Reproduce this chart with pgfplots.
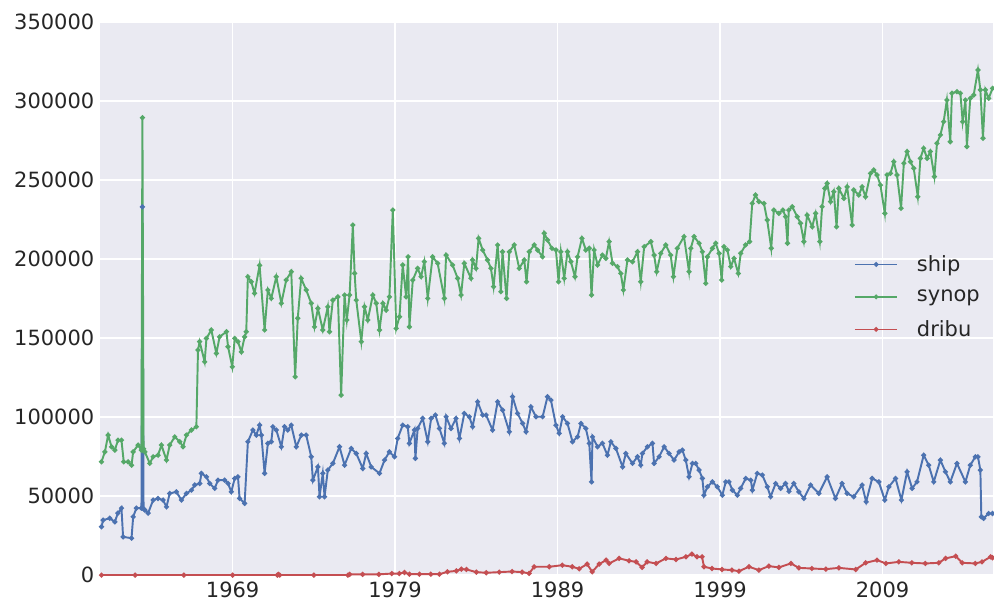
\documentclass[border=0pt]{standalone}
\usepackage{pgfplots}
\pgfplotsset{compat=1.18}
\usepackage{fontspec}
\setmainfont{DejaVu Sans}
\definecolor{sbblue}{HTML}{4C72B0}
\definecolor{sbgreen}{HTML}{55A868}
\definecolor{sbred}{HTML}{C44E52}
\definecolor{sbbg}{HTML}{EAEAF2}
\definecolor{sbtext}{HTML}{262626}
\pgfkeys{/pgf/number format/.cd, fixed, precision=0, 1000 sep={}, assume math mode=true}
\begin{document}
\begin{tikzpicture}
\begin{axis}[
  name=main,
  scale only axis,
  width=670.5pt, height=415.5pt,
  xmin=1960.83, xmax=2015.77,
  ymin=0, ymax=350000,
  axis background/.style={fill=sbbg},
  axis line style={draw=none},
  grid=major,
  major grid style={white, line width=1pt},
  major tick length=0pt,
  xtick={1969,1979,1989,1999,2009},
  ytick={0,50000,100000,150000,200000,250000,300000,350000},
  scaled y ticks=false, scaled x ticks=false,
  tick label style={font=\fontsize{15.75}{19}\selectfont, text=sbtext},
  xticklabel style={inner sep=0pt, yshift=-5pt},
  yticklabel style={inner sep=0pt, xshift=-4pt},
  legend style={at={(0.84,0.588)}, anchor=north west, draw=none, fill=none,
    font=\fontsize{15.75}{19}\selectfont, text=sbtext, row sep=8.5pt, column sep=12pt},
  legend cell align=left,
  legend image code/.code={\draw[#1, line width=1.3pt, mark repeat=2, mark phase=2] plot coordinates {(0pt,0pt) (16pt,0pt) (32pt,0pt)};},
  every axis plot/.append style={line width=1.45pt, mark=*, mark size=1.1pt},
]
\addplot[sbblue, mark options={fill=sbblue, draw=sbblue}] coordinates {
(1960.93,30600) (1961.03,34800) (1961.44,36000) (1961.75,33700) (1961.94,39200) (1962.16,42400)
(1962.26,24200) (1962.78,23400) (1962.88,36900) (1963.08,42400) (1963.39,42400) (1963.45,233000)
(1963.52,42000) (1963.60,41100) (1963.80,39200) (1964.11,47500) (1964.41,48500) (1964.72,47500)
(1964.93,43200) (1965.13,51700) (1965.54,52700) (1965.85,47500) (1966.16,51700) (1966.47,53800)
(1966.67,57000) (1966.98,58000) (1967.08,64400) (1967.39,62200) (1967.59,58000) (1967.90,54900)
(1968.10,60100) (1968.51,60100) (1968.72,58000) (1968.92,52700) (1969.13,61200) (1969.33,62200)
(1969.43,48500) (1969.74,45400) (1969.94,84400) (1970.25,91800) (1970.46,88600) (1970.66,94900)
(1970.77,88600) (1970.97,64400) (1971.17,83400) (1971.38,84400) (1971.48,93900) (1971.69,91800)
(1972.00,81200) (1972.20,93900) (1972.40,91800) (1972.61,94900) (1972.92,81200) (1973.23,88600)
(1973.53,88600) (1973.84,74900) (1973.94,60100) (1974.25,68500) (1974.35,49600) (1974.55,64400)
(1974.66,49600) (1974.86,66500) (1975.17,70700) (1975.58,81200) (1975.89,69600) (1976.30,80200)
(1976.61,77000) (1977.01,67500) (1977.22,77000) (1977.53,68500) (1978.04,64400) (1978.35,72800)
(1978.65,78000) (1978.96,74900) (1979.16,86500) (1979.47,94900) (1979.78,93900) (1979.88,83400)
(1980.19,91800) (1980.25,73900) (1980.39,92800) (1980.70,99200) (1981.01,84400) (1981.22,99200)
(1981.48,101300) (1981.73,92800) (1982.03,83400) (1982.14,100200) (1982.44,92800) (1982.75,99200)
(1982.96,86500) (1983.26,102300) (1983.57,100200) (1983.77,93900) (1984.08,109700) (1984.39,101300)
(1984.60,101300) (1985.00,91800) (1985.31,109700) (1985.62,104400) (1986.03,90700) (1986.23,112900)
(1986.54,102300) (1986.85,96000) (1987.06,90700) (1987.36,106500) (1987.67,100200) (1988.08,100200)
(1988.38,112900) (1988.59,110800) (1988.90,94900) (1989.10,89700) (1989.31,100200) (1989.61,96000)
(1989.92,84400) (1990.23,87500) (1990.44,96000) (1990.74,92800) (1990.95,83400) (1991.09,59000)
(1991.15,87500) (1991.46,81200) (1991.76,83400) (1992.07,75900) (1992.28,84400) (1992.59,80200)
(1993.00,68500) (1993.20,77000) (1993.61,70700) (1993.92,74900) (1994.12,69600) (1994.22,77000)
(1994.53,81200) (1994.84,83400) (1994.94,70700) (1995.25,74900) (1995.56,81200) (1995.86,77000)
(1996.17,72800) (1996.48,78000) (1996.68,79100) (1996.89,72800) (1997.09,62200) (1997.30,70700)
(1997.50,70700) (1997.71,66500) (1997.91,61200) (1998.01,50600) (1998.22,55900) (1998.53,59000)
(1998.83,55900) (1999.14,50600) (1999.35,59000) (1999.55,59000) (1999.76,53800) (2000.06,50600)
(2000.27,54900) (2000.58,61200) (2000.89,60100) (2000.99,53800) (2001.29,64400) (2001.60,63300)
(2001.91,55900) (2002.11,49600) (2002.42,58000) (2002.73,54900) (2003.03,58000) (2003.24,53000)
(2003.54,58000) (2003.85,52700) (2004.16,48500) (2004.57,57000) (2005.08,51700) (2005.59,62200)
(2006.10,48500) (2006.51,58000) (2006.82,51700) (2007.23,49600) (2007.74,57000) (2007.99,46400)
(2008.36,61200) (2008.77,59000) (2009.14,47500) (2009.39,55900) (2009.80,61200) (2010.16,47500)
(2010.51,65400) (2010.82,54900) (2011.12,59000) (2011.53,75900) (2011.84,69600) (2012.15,59000)
(2012.56,72800) (2012.87,65400) (2013.17,59000) (2013.58,70700) (2014.10,59000) (2014.40,69600)
(2014.71,74900) (2014.87,74900) (2015.02,66500) (2015.08,36900) (2015.22,35900) (2015.53,39000)
(2015.77,39000)
};
\addlegendentry{ship}
\addplot[sbgreen, mark options={fill=sbgreen, draw=sbgreen}] coordinates {
(1960.93,71700) (1961.14,78000) (1961.34,88600) (1961.55,81200) (1961.75,79100) (1961.95,85400)
(1962.16,85400) (1962.30,71700) (1962.57,71700) (1962.78,69600) (1962.88,78000) (1963.18,82300)
(1963.39,79100) (1963.45,289400) (1963.52,80000) (1963.60,78000) (1963.90,70700) (1964.11,74900)
(1964.41,75900) (1964.62,82300) (1964.93,72800) (1965.13,82300) (1965.44,87500) (1965.75,84400)
(1965.95,81200) (1966.16,88600) (1966.47,91800) (1966.77,93900) (1966.87,142400) (1966.97,147700)
(1967.28,135000) (1967.39,149800) (1967.69,155100) (1968.00,140300) (1968.20,150800) (1968.62,154000)
(1968.72,144500) (1968.98,131800) (1969.13,149800) (1969.33,147700) (1969.54,141300) (1969.74,150800)
(1969.84,154000) (1969.94,188800) (1970.15,185600) (1970.35,178300) (1970.66,196000) (1970.97,155100)
(1971.17,180400) (1971.38,175100) (1971.69,188800) (1972.00,172000) (1972.30,186700) (1972.61,192000)
(1972.85,125500) (1973.01,162500) (1973.22,187800) (1973.53,180400) (1973.84,172000) (1974.04,157100)
(1974.25,168800) (1974.55,155100) (1974.86,169800) (1974.96,154000) (1975.17,174000) (1975.48,176100)
(1975.68,113900) (1975.89,177200) (1976.03,161400) (1976.20,177200) (1976.40,221500) (1976.51,190900)
(1976.61,174000) (1976.92,147700) (1977.12,169800) (1977.32,161400) (1977.63,177200) (1977.84,172000)
(1978.04,155100) (1978.25,172000) (1978.45,167700) (1978.65,176100) (1978.86,231000) (1979.07,156100)
(1979.27,163500) (1979.47,196200) (1979.68,176100) (1979.80,201400) (1979.88,157100) (1980.09,186700)
(1980.39,194100) (1980.60,188800) (1980.80,198300) (1981.01,175100) (1981.31,201400) (1981.62,197300)
(1982.03,175100) (1982.14,202500) (1982.54,196200) (1982.85,187800) (1983.06,177200) (1983.26,197300)
(1983.67,187800) (1983.77,199400) (1983.98,194100) (1984.14,213100) (1984.39,205700) (1984.69,199400)
(1984.90,194100) (1985.06,182500) (1985.31,208900) (1985.51,179300) (1985.61,204600) (1985.86,175100)
(1986.03,204600) (1986.33,208900) (1986.64,194100) (1986.95,199400) (1987.09,185600) (1987.26,204600)
(1987.56,208900) (1987.77,205700) (1988.07,201400) (1988.18,216300) (1988.38,212000) (1988.65,206800)
(1988.90,205700) (1989.06,185600) (1989.20,204600) (1989.41,187800) (1989.61,204600) (1989.82,198300)
(1990.07,188800) (1990.23,201400) (1990.50,213100) (1990.74,205700) (1990.95,206800) (1991.09,177200)
(1991.25,205700) (1991.46,196200) (1991.76,202500) (1991.97,200400) (1992.17,211000) (1992.38,197300)
(1992.69,195200) (1992.89,190900) (1993.05,180400) (1993.30,199400) (1993.61,198300) (1993.92,204600)
(1994.12,185600) (1994.33,207800) (1994.74,211000) (1994.94,202500) (1995.10,192000) (1995.35,203600)
(1995.66,208900) (1995.96,202500) (1996.13,188800) (1996.37,206800) (1996.78,214200) (1997.09,192000)
(1997.20,206800) (1997.40,214200) (1997.71,210000) (1997.91,204600) (1998.12,184600) (1998.22,201400)
(1998.53,206800) (1998.73,210000) (1998.94,203600) (1999.10,186700) (1999.24,207800) (1999.45,205700)
(1999.66,195200) (1999.86,200400) (2000.12,190900) (2000.27,203600) (2000.57,208900) (2000.82,211000)
(2000.98,235200) (2001.18,240500) (2001.39,236300) (2001.70,235200) (2001.90,224700) (2002.15,206800)
(2002.31,231000) (2002.62,228900) (2002.87,231000) (2003.03,226800) (2003.15,210000) (2003.23,231000)
(2003.44,233100) (2003.75,226800) (2003.95,222600) (2004.16,211000) (2004.36,227800) (2004.67,220400)
(2004.88,228900) (2005.14,211000) (2005.28,233100) (2005.45,244700) (2005.59,247900) (2005.80,236300)
(2006.00,242600) (2006.17,220400) (2006.31,244700) (2006.62,238400) (2006.82,245700) (2007.13,221500)
(2007.23,243700) (2007.54,240500) (2007.74,245700) (2007.95,239400) (2008.26,254200) (2008.46,256300)
(2008.66,253200) (2008.87,246800) (2009.14,228900) (2009.28,253200) (2009.49,254200) (2009.69,261600)
(2009.89,253200) (2010.14,232100) (2010.31,260600) (2010.51,268000) (2010.72,261600) (2010.92,257400)
(2011.17,239400) (2011.33,263700) (2011.53,270100) (2011.74,263700) (2011.94,268000) (2012.19,252100)
(2012.35,273200) (2012.56,278500) (2012.76,286900) (2012.96,300600) (2013.17,274200) (2013.27,304900)
(2013.58,305900) (2013.79,304900) (2013.93,286900) (2014.10,300600) (2014.19,271100) (2014.40,301700)
(2014.61,303800) (2014.87,319600) (2015.02,307000) (2015.18,276400) (2015.33,307000) (2015.53,301700)
(2015.77,308000)
};
\addlegendentry{synop}
\addplot[sbred, mark options={fill=sbred, draw=sbred}] coordinates {
(1960.93,0) (1963.0,0) (1966.0,0) (1969.0,0) (1971.75,0) (1971.82,500) (1971.90,0) (1974.0,0)
(1976.10,0) (1976.20,500) (1977.0,500) (1978.00,500) (1978.80,1000) (1979.26,1000) (1979.58,1700)
(1979.88,600) (1980.5,600) (1981.2,600) (1981.73,600) (1982.22,2100) (1982.77,2700) (1983.08,3800)
(1983.39,3600) (1984.00,1900) (1984.61,1500) (1985.41,1900) (1986.20,2300) (1986.82,1900) (1987.25,1100)
(1987.56,5300) (1988.49,5300) (1989.29,6300) (1989.90,5300) (1990.33,4000) (1990.82,7000) (1991.13,2100)
(1991.56,7000) (1991.99,9500) (1992.17,7400) (1992.79,10600) (1993.40,9100) (1993.83,8400) (1994.20,4900)
(1994.51,8400) (1995.06,7400) (1995.67,10600) (1996.29,9900) (1996.90,11600) (1997.27,13300) (1997.58,11600)
(1997.89,11600) (1998.01,5300) (1998.50,4200) (1999.12,3600) (1999.73,3200) (2000.16,2500) (2000.78,5300)
(2001.39,3200) (2002.00,5700) (2002.62,4900) (2003.36,7400) (2003.85,4600) (2004.65,4200) (2005.51,3800)
(2006.31,4600) (2007.35,3600) (2007.96,7800) (2008.66,9500) (2009.21,7400) (2010.00,8400) (2010.80,7800)
(2011.63,7400) (2012.46,7800) (2012.88,10600) (2013.50,12000) (2013.90,7800) (2014.71,7400) (2015.12,8400)
(2015.65,11600) (2015.77,11000)
};
\addlegendentry{dribu}
\end{axis}
\path (main.south west) ++(-75pt,-21pt) coordinate (bl);
\path (main.north east) ++(0pt,16.5pt) coordinate (tr);
\path (bl) rectangle (tr);
\end{tikzpicture}
\end{document}
